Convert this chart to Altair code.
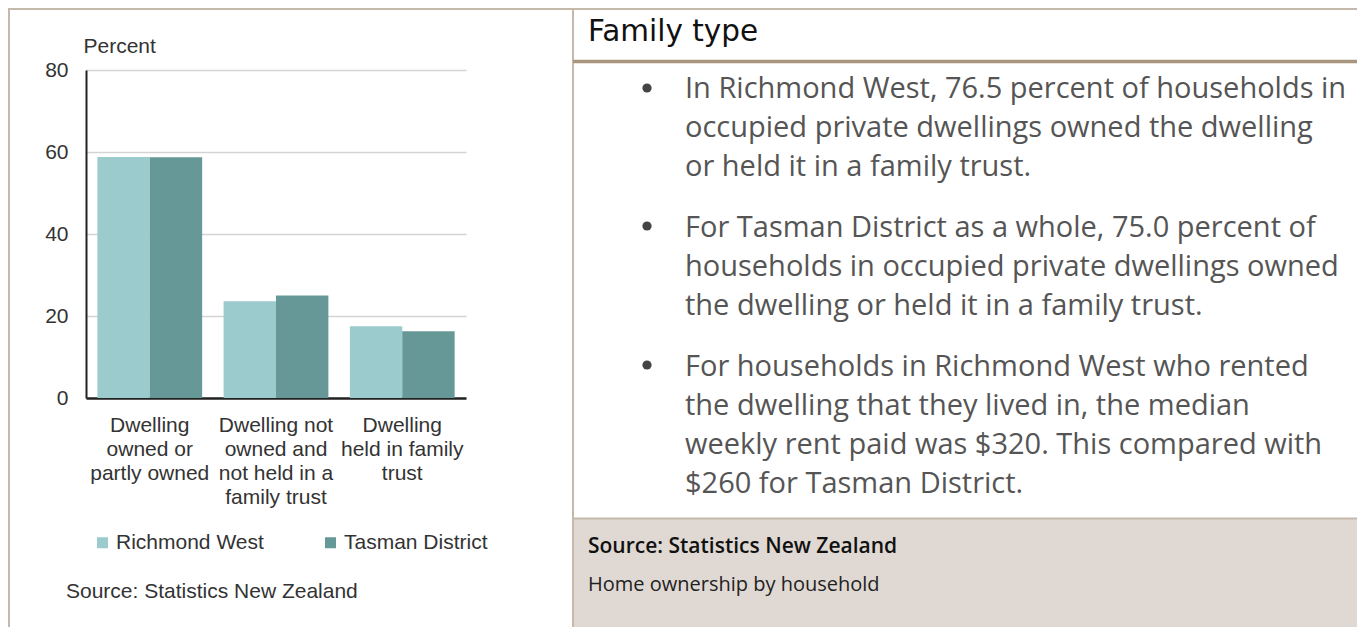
import json
import altair as alt
import pandas as pd

# ---------------- data ----------------
categories = [
    "Dwelling owned or partly owned",
    "Dwelling not owned and not held in a family trust",
    "Dwelling held in family trust",
]
category_lines = [
    ["Dwelling", "owned or", "partly owned"],
    ["Dwelling not", "owned and", "not held in a", "family trust"],
    ["Dwelling", "held in family", "trust"],
]
series = ["Richmond West", "Tasman District"]
richmond_west = [58.8, 23.6, 17.5]
tasman_district = [58.7, 25.0, 16.3]
y_ticks = [0, 20, 40, 60, 80]
series_colors = ["#9bcbcc", "#669898"]

y_title = "Percent"
chart_source = "Source: Statistics New Zealand"
panel_title = "Family type"
bullet_paragraphs = [
    ["In Richmond West, 76.5 percent of households in",
     "occupied private dwellings owned the dwelling",
     "or held it in a family trust."],
    ["For Tasman District as a whole, 75.0 percent of",
     "households in occupied private dwellings owned",
     "the dwelling or held it in a family trust."],
    ["For households in Richmond West who rented",
     "the dwelling that they lived in, the median",
     "weekly rent paid was $320. This compared with",
     "$260 for Tasman District."],
]
footer_source = "Source: Statistics New Zealand"
footer_caption = "Home ownership by household"

rows = []
for i, c in enumerate(categories):
    rows.append({"category": c, "series": series[0], "value": richmond_west[i]})
    rows.append({"category": c, "series": series[1], "value": tasman_district[i]})
df = pd.DataFrame(rows)

label_expr = ""
for c, lines in zip(categories, category_lines):
    label_expr += f"datum.value === {json.dumps(c)} ? {json.dumps(lines)} : "
label_expr += "datum.label"

LEFT_FONT = "Liberation Sans"
LEFT_COLOR = "#333333"
RIGHT_FONT = "Open Sans"
BORDER = "#c4b9ab"

bars = alt.Chart(df).mark_bar().encode(
    x=alt.X(
        "category:N",
        sort=categories,
        scale=alt.Scale(paddingInner=0.17, paddingOuter=0.09),
        axis=alt.Axis(
            title=None, labelExpr=label_expr, labelAngle=0, labelFontSize=21,
            labelFont=LEFT_FONT, labelColor=LEFT_COLOR, labelLineHeight=24,
            labelPadding=16, ticks=False, tickSize=0, domainColor="#222222",
            domainWidth=2.5, grid=False, labelOverlap=False, labelLimit=300,
        ),
    ),
    xOffset=alt.XOffset("series:N", sort=series,
                        scale=alt.Scale(paddingInner=0, paddingOuter=0)),
    y=alt.Y(
        "value:Q",
        scale=alt.Scale(domain=[0, 80], nice=False),
        axis=alt.Axis(
            values=y_ticks, title=y_title, titleAngle=0, titleAlign="left",
            titleBaseline="middle", titleX=-3, titleY=-24, titleFontSize=21,
            titleFontWeight="normal", titleFont=LEFT_FONT, titleColor=LEFT_COLOR,
            labelFontSize=21, labelFont=LEFT_FONT, labelColor=LEFT_COLOR,
            labelPadding=18, ticks=False, tickSize=0, domainColor="#222222",
            domainWidth=2, gridColor="#d4d4d4", gridWidth=1.5,
        ),
    ),
    color=alt.Color(
        "series:N", sort=series,
        scale=alt.Scale(domain=series, range=series_colors),
        legend=alt.Legend(
            title=None, orient="none", legendX=6, legendY=462,
            direction="horizontal", symbolType="square", symbolSize=121,
            symbolStrokeWidth=0, labelFontSize=21, labelFont=LEFT_FONT,
            labelColor=LEFT_COLOR, labelOffset=3, columnPadding=56, padding=0,
        ),
    ),
)

one = pd.DataFrame({"k": [0]})


def hrule(x1, x2, y, color, width):
    return alt.Chart(one).mark_rule(color=color, strokeWidth=width).encode(
        x=alt.value(x1), x2=alt.value(x2), y=alt.value(y))


def vrule(x, y1, y2, color, width):
    return alt.Chart(one).mark_rule(color=color, strokeWidth=width).encode(
        x=alt.value(x), y=alt.value(y1), y2=alt.value(y2))


def text(t, x, y, font, size, color, baseline="middle", weight="normal", lh=None):
    kw = dict(align="left", baseline=baseline, font=font, fontSize=size,
              color=color, fontWeight=weight)
    if lh is not None:
        kw["lineHeight"] = lh
    return alt.Chart(one).mark_text(**kw).encode(
        x=alt.value(x), y=alt.value(y), text=alt.value(t))


RIGHT = 1271
BOTTOM = 557

footer_rect = alt.Chart(one).mark_rect(color="#e0d9d3").encode(
    x=alt.value(488), x2=alt.value(RIGHT), y=alt.value(448), y2=alt.value(BOTTOM))

layers = [
    footer_rect,
    hrule(-78, RIGHT, -61, BORDER, 2),
    vrule(-77, -62, BOTTOM, BORDER, 2),
    vrule(487, -62, BOTTOM, BORDER, 2),
    hrule(487, RIGHT, -8.5, "#a8957e", 3.5),
    hrule(487, RIGHT, 448.5, BORDER, 2),
    bars,
    text(chart_source, -20, 522, LEFT_FONT, 21, LEFT_COLOR),
    text(panel_title, 502, -29, "DejaVu Sans", 29.5, "#111111", baseline="alphabetic"),
    text(footer_source, 502, 477, RIGHT_FONT, 21, "#111111", weight=600),
    text(footer_caption, 502, 515, RIGHT_FONT, 20, "#222222"),
]

para_top = [4.5, 143.5, 282.5]
bullet_y = [18, 156, 295]
for lines, ty, by in zip(bullet_paragraphs, para_top, bullet_y):
    layers.append(alt.Chart(one).mark_circle(size=85, color="#444444", opacity=1).encode(
        x=alt.value(561), y=alt.value(by)))
    layers.append(text(lines, 599, ty, RIGHT_FONT, 29, "#555555", baseline="top", lh=39))

chart = alt.layer(*layers).properties(
    width=380,
    height=328,
    padding={"left": 78, "top": 62, "right": 891, "bottom": 229},
    autosize=alt.AutoSizeParams(type="none"),
    background="white",
).configure_view(stroke=None)

chart.save("out.html", embed_options={"renderer": "svg", "actions": False})
